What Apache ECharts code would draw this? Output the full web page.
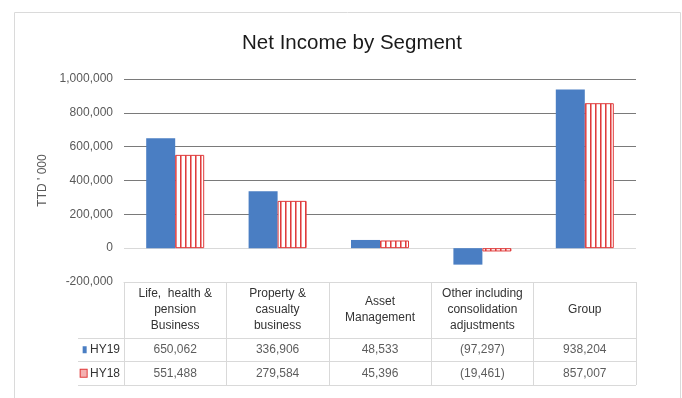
<!DOCTYPE html>
<html>
<head>
<meta charset="utf-8">
<script src="https://cdn.jsdelivr.net/npm/echarts@6/dist/echarts.min.js"></script>
<style>
html,body{margin:0;padding:0;background:#fff;}
#chart{width:682px;height:398px;}
</style>
</head>
<body>
<div id="chart"></div>
<script>
// ---- data ----
var title = 'Net Income by Segment';
var yAxisName = "TTD ' 000";
var categories = [
  'Life,  health &\npension\nBusiness',
  'Property &\ncasualty\nbusiness',
  'Asset\nManagement',
  'Other including\nconsolidation\nadjustments',
  'Group'
];
var seriesNames = ['HY19', 'HY18'];
var hy19 = [650062, 336906, 48533, -97297, 938204];
var hy18 = [551488, 279584, 45396, -19461, 857007];
var yMin = -200000, yMax = 1000000, yStep = 200000;

// ---- styling helpers ----
var FONT = '"Liberation Sans", Arial, sans-serif';
var BLUE = '#4A7EC3';
var RED = '#E03A3A';
var TABLE_LINE = '#D9D9D9';

function hatchCanvas() {
  var c = document.createElement('canvas');
  c.width = 5; c.height = 5;
  var ctx = c.getContext('2d');
  ctx.fillStyle = '#ffffff';
  ctx.fillRect(0, 0, 5, 5);
  ctx.fillStyle = '#DF3C3C';
  ctx.fillRect(0, 0, 1, 5);
  ctx.fillStyle = '#EE9595';
  ctx.fillRect(1, 0, 1, 5);
  return c;
}
var hatch = { image: hatchCanvas(), repeat: 'repeat' };

function fmt(v) {
  var s = Math.abs(v).toString().replace(/\B(?=(\d{3})+(?!\d))/g, ',');
  return v < 0 ? '(' + s + ')' : s;
}

var rows = [hy19, hy18];
var cellData = [];
rows.forEach(function (arr, r) {
  arr.forEach(function (v, i) { cellData.push([i, seriesNames[r], v]); });
});

var chart = echarts.init(document.getElementById('chart'), null, { renderer: 'canvas' });
chart.setOption({
  animation: false,
  backgroundColor: '#fff',
  title: {
    text: title,
    left: 347, top: 28, textAlign: 'center',
    textStyle: { fontFamily: FONT, fontSize: 20.5, fontWeight: 'normal', color: '#1a1a1a' }
  },
  graphic: [{
    type: 'rect', left: 12, top: 10, silent: true,
    shape: { width: 666, height: 400 },
    style: { fill: 'none', stroke: '#DADADA', lineWidth: 1 }
  }],
  grid: [
    { left: 124, right: 46, top: 79, bottom: 116 },
    { left: 124, right: 46, top: 338, height: 47 }
  ],
  xAxis: [
    {
      type: 'category', gridIndex: 0, data: categories,
      axisLine: { onZero: false, lineStyle: { color: TABLE_LINE } },
      axisTick: { show: true, length: 56, interval: 0, lineStyle: { color: TABLE_LINE } },
      axisLabel: {
        interval: 0, margin: 28, verticalAlign: 'middle', lineHeight: 16,
        fontFamily: FONT, fontSize: 12, color: '#333'
      },
      splitLine: { show: false }
    },
    {
      type: 'category', gridIndex: 1, data: categories,
      axisLine: { show: false }, axisTick: { show: false },
      axisLabel: { show: false },
      splitLine: { show: true, interval: 0, lineStyle: { color: TABLE_LINE } }
    }
  ],
  yAxis: [
    {
      type: 'value', gridIndex: 0, min: yMin, max: yMax, interval: yStep,
      name: yAxisName, nameLocation: 'middle', nameGap: 74, nameRotate: 90,
      nameTextStyle: { fontFamily: FONT, fontSize: 12, color: '#595959' },
      axisLine: { show: false }, axisTick: { show: false },
      axisLabel: {
        margin: 11, fontFamily: FONT, fontSize: 12, color: '#595959',
        formatter: function (v) { return v.toString().replace(/\B(?=(\d{3})+(?!\d))/g, ','); }
      },
      splitLine: {
        show: true,
        lineStyle: { color: [TABLE_LINE, TABLE_LINE, '#7A7A7A', '#7A7A7A', '#7A7A7A', '#7A7A7A', '#7A7A7A'], width: 1 }
      }
    },
    {
      type: 'category', gridIndex: 1, data: seriesNames, inverse: true,
      axisLine: { show: true, lineStyle: { color: TABLE_LINE } },
      axisTick: { show: true, length: 46, interval: 0, lineStyle: { color: TABLE_LINE } },
      axisLabel: {
        margin: 4, fontFamily: FONT, fontSize: 12, color: '#333',
        formatter: function (v) { return (v === 'HY19' ? '{b| }' : '{r| }') + ' ' + v; },
        rich: {
          b: { width: 4, height: 7, backgroundColor: BLUE },
          r: { width: 6, height: 7, backgroundColor: '#F4B0B0', borderColor: RED, borderWidth: 1 }
        }
      },
      splitLine: { show: true, interval: 0, lineStyle: { color: TABLE_LINE } }
    }
  ],
  series: [
    {
      name: seriesNames[0], type: 'bar', xAxisIndex: 0, yAxisIndex: 0,
      data: hy19, barWidth: 29, barGap: '0%',
      itemStyle: { color: BLUE }
    },
    {
      name: seriesNames[1], type: 'bar', xAxisIndex: 0, yAxisIndex: 0,
      data: hy18, barWidth: 29, barGap: '0%',
      itemStyle: { color: hatch, borderColor: RED, borderWidth: 1 }
    },
    {
      type: 'scatter', xAxisIndex: 1, yAxisIndex: 1,
      data: cellData, symbolSize: 1,
      itemStyle: { color: 'rgba(0,0,0,0)' },
      label: {
        show: true, position: 'inside',
        fontFamily: FONT, fontSize: 12, color: '#333',
        formatter: function (p) { return fmt(p.value[2]); }
      },
      silent: true
    }
  ]
});
</script>
</body>
</html>
